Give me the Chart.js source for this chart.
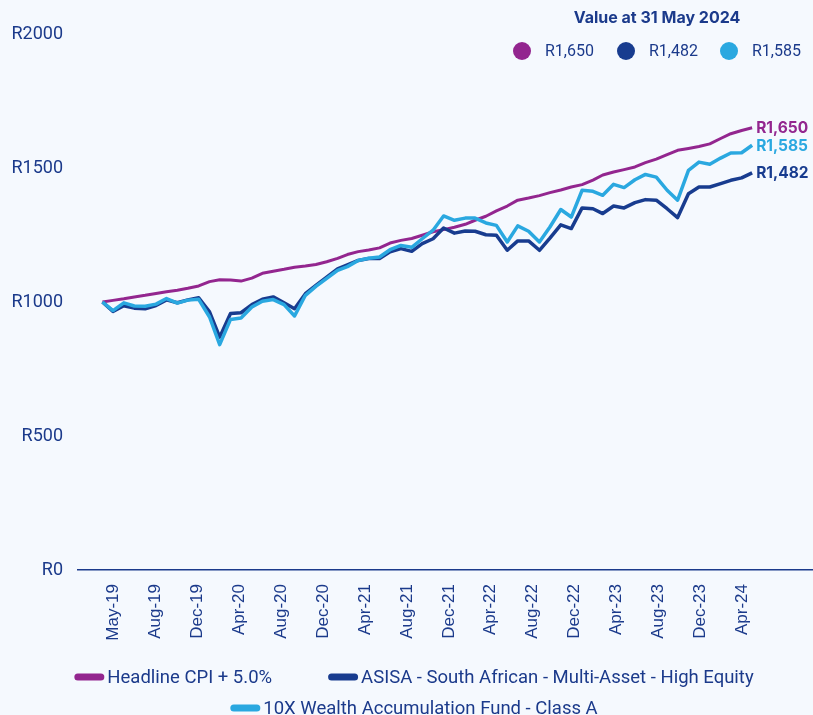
<!DOCTYPE html>
<html>
<head>
<meta charset="utf-8">
<script src="https://cdn.jsdelivr.net/npm/chart.js@4.4.1/dist/chart.umd.min.js"></script>
<style>
  body { margin: 0; background: #f5f9fe; }
  #wrap { width: 813px; height: 715px; }
</style>
</head>
<body>
<div id="wrap"><canvas id="mychart" width="813" height="715"></canvas></div>
<script>
// monthly points, first one is the R1000 starting value
const months = [
  '2019-04','2019-05','2019-06','2019-07','2019-08','2019-09','2019-10','2019-11','2019-12',
  '2020-01','2020-02','2020-03','2020-04','2020-05','2020-06','2020-07','2020-08','2020-09','2020-10','2020-11','2020-12',
  '2021-01','2021-02','2021-03','2021-04','2021-05','2021-06','2021-07','2021-08','2021-09','2021-10','2021-11','2021-12',
  '2022-01','2022-02','2022-03','2022-04','2022-05','2022-06','2022-07','2022-08','2022-09','2022-10','2022-11','2022-12',
  '2023-01','2023-02','2023-03','2023-04','2023-05','2023-06','2023-07','2023-08','2023-09','2023-10','2023-11','2023-12',
  '2024-01','2024-02','2024-03','2024-04','2024-05'
];

const cpi = [
  1000,1006,1012,1019,1025,1032,1038,1044,1051,1060,1076,1083,1082,1078,1089,1107,1115,1122,1130,1134,
  1140,1150,1163,1177,1188,1194,1202,1220,1230,1237,1249,1262,1270,1279,1290,1305,1320,1340,1358,1380,
  1388,1397,1408,1418,1429,1438,1455,1474,1485,1494,1504,1520,1533,1550,1566,1573,1580,1590,1610,1628,
  1640,1650
];
const asisa = [
  1000,965,986,977,975,987,1008,997,1008,1016,963,869,957,960,990,1010,1019,997,975,1031,
  1062,1093,1124,1139,1155,1162,1162,1187,1199,1189,1218,1236,1276,1257,1265,1264,1251,1249,1193,1228,
  1228,1193,1238,1288,1274,1351,1348,1330,1358,1351,1371,1382,1380,1348,1315,1404,1429,1429,1442,1454,
  1463,1482
];
const fund = [
  1000,968,997,985,984,992,1013,996,1007,1010,944,841,935,940,981,1003,1009,990,948,1025,
  1058,1088,1118,1132,1155,1163,1168,1195,1211,1204,1236,1268,1321,1305,1313,1313,1295,1286,1224,1284,
  1264,1224,1280,1345,1317,1417,1413,1398,1439,1427,1456,1476,1466,1417,1380,1491,1522,1514,1537,1556,
  1557,1585
];

const seriesNames = [
  'Headline CPI + 5.0%',
  'ASISA - South African - Multi-Asset - High Equity',
  '10X Wealth Accumulation Fund - Class A'
];
const seriesColors = ['#93268f', '#183c8f', '#2aa8e0'];
const endLabels = ['R1,650', 'R1,482', 'R1,585'];

// x labels sit every 120 days from May-19
const tickLabels = ['May-19','Aug-19','Dec-19','Apr-20','Aug-20','Dec-20','Apr-21','Aug-21',
                    'Dec-21','Apr-22','Aug-22','Dec-22','Apr-23','Aug-23','Dec-23','Apr-24'];
const tickFirst = '2019-05';
const tickStep = 120;

const textColor = '#1b3a8b';

function dayOf(m) {
  const [y, mo] = m.split('-').map(Number);
  return (Date.UTC(y, mo - 1, 1) - Date.UTC(2019, 3, 1)) / 86400000;
}
const days = months.map(dayOf);
const tickValues = tickLabels.map((_, k) => dayOf(tickFirst) + tickStep * k);

function toPoints(arr) {
  return arr.map((v, i) => ({ x: days[i], y: v }));
}

const annotate = {
  id: 'annotate',
  afterDraw(chart) {
    const ctx = chart.ctx;
    ctx.save();

    // value labels at the end of each line
    ctx.font = 'bold 15.5px Inter';
    ctx.textAlign = 'left';
    ctx.textBaseline = 'middle';
    chart.data.datasets.forEach((ds, i) => {
      const meta = chart.getDatasetMeta(i);
      const pt = meta.data[meta.data.length - 1];
      ctx.fillStyle = ds.borderColor;
      ctx.fillText(endLabels[i], pt.x + 4, pt.y + 1);
    });

    // "Value at" box, top right
    ctx.font = 'bold 16px Inter';
    ctx.fillStyle = textColor;
    ctx.textAlign = 'center';
    ctx.fillText('Value at 31 May 2024', 657, 18);
    ctx.font = '16px Roboto';
    ctx.textAlign = 'left';
    const dotX = [522, 626, 729];
    endLabels.forEach((lbl, i) => {
      ctx.fillStyle = seriesColors[i];
      ctx.beginPath();
      ctx.arc(dotX[i], 51, 9, 0, Math.PI * 2);
      ctx.fill();
      ctx.fillStyle = textColor;
      ctx.fillText(lbl, dotX[i] + 23, 52);
    });

    // bottom legend
    ctx.font = '18.5px Roboto';
    const rows = [[0, 1], [2]];
    const rowY = [677, 708];
    const cx = 414, gap = 56;
    rows.forEach((row, r) => {
      const widths = row.map(i => 33 + ctx.measureText(seriesNames[i]).width);
      const total = widths.reduce((a, b) => a + b, 0) + gap * (row.length - 1);
      let x = cx - total / 2;
      row.forEach((i, k) => {
        ctx.fillStyle = seriesColors[i];
        ctx.beginPath();
        ctx.roundRect(x, rowY[r] - 3.5, 30, 7, 3.5);
        ctx.fill();
        ctx.fillStyle = textColor;
        ctx.fillText(seriesNames[i], x + 33, rowY[r] + 1);
        x += widths[k] + gap;
      });
    });

    ctx.restore();
  }
};

const canvas = document.getElementById('mychart');

const grafico = new Chart(canvas, {
  type: 'line',
  data: {
    datasets: [
      { label: seriesNames[0], data: toPoints(cpi), borderColor: seriesColors[0], borderWidth: 3, order: 2 },
      { label: seriesNames[1], data: toPoints(asisa), borderColor: seriesColors[1], borderWidth: 3.5, order: 1 },
      { label: seriesNames[2], data: toPoints(fund), borderColor: seriesColors[2], borderWidth: 3.5, order: 0 }
    ]
  },
  options: {
    responsive: false,
    animation: false,
    elements: { point: { radius: 0 }, line: { tension: 0, borderJoinStyle: 'round' } },
    layout: { padding: { top: 34, right: 0, bottom: 0, left: 0 } },
    plugins: { legend: { display: false }, tooltip: { enabled: false } },
    scales: {
      x: {
        type: 'linear',
        min: -70,
        max: 2031,
        grid: { display: false, drawTicks: false },
        border: { display: true, color: textColor, width: 1.5 },
        afterBuildTicks: (scale) => { scale.ticks = tickValues.map(v => ({ value: v })); },
        afterFit: (scale) => { scale.height = 145; },
        ticks: {
          autoSkip: false,
          minRotation: 90,
          maxRotation: 90,
          padding: 14,
          color: textColor,
          font: { family: 'Liberation Sans', size: 17 },
          callback: (v, i) => tickLabels[i]
        }
      },
      y: {
        min: 0,
        max: 2000,
        grid: { display: false, drawTicks: false },
        border: { display: false },
        afterFit: (scale) => { scale.width = 78; },
        ticks: {
          stepSize: 500,
          padding: 15,
          color: textColor,
          font: { family: 'Roboto', size: 18 },
          callback: (v) => 'R' + v
        }
      }
    }
  },
  plugins: [annotate]
});
</script>
</body>
</html>
